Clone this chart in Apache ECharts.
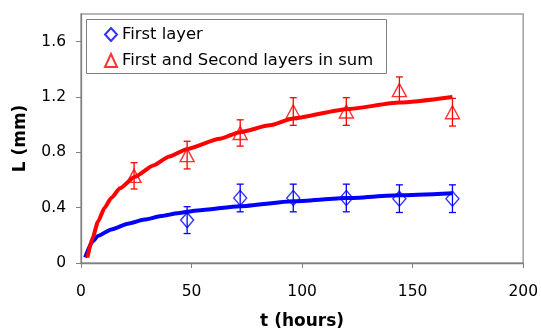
<!DOCTYPE html>
<html>
<head>
<meta charset="utf-8">
<script src="https://cdn.jsdelivr.net/npm/echarts@6/dist/echarts.min.js"></script>
<style>
html,body{margin:0;padding:0;background:#fff;}
#chart{width:541px;height:335px;}
</style>
</head>
<body>
<div id="chart"></div>
<script>
// ---- data ----
var seriesNames = ['First layer', 'First and Second layers in sum'];
var firstT = [48, 72, 96, 120, 144, 168];
var firstL = [0.31, 0.47, 0.47, 0.47, 0.465, 0.465];
var firstErr = [0.097, 0.1, 0.1, 0.1, 0.1, 0.1];

var sumT = [24, 48, 72, 96, 120, 144, 168];
var sumL = [0.63, 0.78, 0.94, 1.095, 1.095, 1.25, 1.09];
var sumErr = [0.095, 0.1, 0.095, 0.1, 0.1, 0.095, 0.1];

var firstFitT = [1.9, 5.4, 7.7, 13.7, 21.2, 28.8, 36.3, 43.8, 52.8, 71.8, 95.9, 120, 144, 168];
var firstFitL = [0.04, 0.16, 0.196, 0.243, 0.284, 0.314, 0.339, 0.36, 0.38, 0.41, 0.446, 0.469, 0.49, 0.505];

var sumFitT = [2.9, 5.4, 7.7, 10.7, 13.7, 17.6, 24.4, 32.7, 40, 47.8, 62.8, 71.9, 85.4, 96, 120, 144, 168];
var sumFitL = [0.04, 0.19, 0.30, 0.40, 0.47, 0.54, 0.624, 0.705, 0.77, 0.823, 0.898, 0.946, 0.995, 1.045, 1.112, 1.16, 1.2];

var xTicks = [0, 50, 100, 150, 200];
var yTicks = [0, 0.4, 0.8, 1.2, 1.6];

// ---- build ----
function zip(a, b) { return a.map(function (v, i) { return [v, b[i]]; }); }
function errData(t, l, e) { return t.map(function (v, i) { return [v, l[i] - e[i], l[i] + e[i]]; }); }

var BLUE = '#0000ff', RED = '#ff0000';
var FONT = 'DejaVu Sans';

function errRender(color) {
  return function (params, api) {
    var x = api.value(0);
    var p1 = api.coord([x, api.value(1)]);
    var p2 = api.coord([x, api.value(2)]);
    var w = 3.5;
    var st = { stroke: color, lineWidth: 1.3 };
    return {
      type: 'group',
      children: [
        { type: 'line', shape: { x1: p1[0], y1: p1[1], x2: p2[0], y2: p2[1] }, style: st },
        { type: 'line', shape: { x1: p1[0] - w, y1: p1[1], x2: p1[0] + w, y2: p1[1] }, style: st },
        { type: 'line', shape: { x1: p2[0] - w, y1: p2[1], x2: p2[0] + w, y2: p2[1] }, style: st }
      ]
    };
  };
}

var chart = echarts.init(document.getElementById('chart'), null, { renderer: 'canvas' });
chart.setOption({
  animation: false,
  backgroundColor: '#fff',
  textStyle: { fontFamily: FONT },
  grid: { left: 81, right: 17, top: 14, bottom: 69, show: true, borderColor: '#a0a0a0', borderWidth: 1.5, backgroundColor: 'transparent' },
  xAxis: {
    type: 'value', min: 0, max: 200, interval: 50,
    name: 't (hours)', nameLocation: 'middle', nameGap: 50,
    nameTextStyle: { fontFamily: FONT, fontWeight: 'bold', fontSize: 17, color: '#000' },
    axisLine: { show: true, onZero: false, lineStyle: { color: '#808080', width: 1.3 } },
    axisTick: { show: true, length: 5, lineStyle: { color: '#808080' }, customValues: xTicks },
    axisLabel: { fontFamily: FONT, fontSize: 15.5, color: '#000', margin: 21, customValues: xTicks },
    splitLine: { show: false }
  },
  yAxis: {
    type: 'value', min: 0, max: 1.8, interval: 0.4,
    name: 'L (mm)', nameLocation: 'middle', nameGap: 52,
    nameTextStyle: { fontFamily: FONT, fontWeight: 'bold', fontSize: 17, color: '#000' },
    axisLine: { show: true, onZero: false, lineStyle: { color: '#808080', width: 1.3 } },
    axisTick: { show: true, length: 5, lineStyle: { color: '#808080' }, customValues: yTicks },
    axisLabel: { fontFamily: FONT, fontSize: 15.5, color: '#000', margin: 15, customValues: yTicks,
      formatter: function (v) { return String(Math.round(v * 10) / 10); } },
    splitLine: { show: false }
  },
  legend: {
    orient: 'vertical', left: 104, top: 26,
    itemWidth: 12, itemHeight: 13, itemGap: 9,
    padding: 0,
    textStyle: { fontFamily: FONT, fontSize: 16.4, color: '#000', lineHeight: 17 },
    data: seriesNames
  },
  graphic: [{
    type: 'rect', left: 86, top: 19, z: 100, silent: true,
    shape: { width: 300, height: 54 },
    style: { fill: 'transparent', stroke: '#808080', lineWidth: 1 }
  }],
  series: [
    { type: 'line', data: zip(firstFitT, firstFitL), showSymbol: false, smooth: 0.2, smoothMonotone: 'x',
      lineStyle: { color: BLUE, width: 4 }, itemStyle: { color: BLUE }, z: 3, silent: true },
    { type: 'line', data: zip(sumFitT, sumFitL), showSymbol: false, smooth: 0.2, smoothMonotone: 'x',
      lineStyle: { color: RED, width: 4 }, itemStyle: { color: RED }, z: 3, silent: true },
    { type: 'custom', data: errData(firstT, firstL, firstErr), renderItem: errRender(BLUE), z: 4, silent: true },
    { type: 'custom', data: errData(sumT, sumL, sumErr), renderItem: errRender(RED), z: 4, silent: true },
    { name: seriesNames[0], type: 'scatter', data: zip(firstT, firstL), symbol: 'diamond', symbolSize: [13, 15],
      itemStyle: { color: 'rgba(255,255,255,0)', borderColor: BLUE, borderWidth: 1.4 }, z: 5 },
    { name: seriesNames[1], type: 'scatter', data: zip(sumT, sumL), symbol: 'triangle', symbolSize: [14, 13],
      itemStyle: { color: 'rgba(255,255,255,0)', borderColor: RED, borderWidth: 1.4 }, z: 5 }
  ]
});
</script>
</body>
</html>
